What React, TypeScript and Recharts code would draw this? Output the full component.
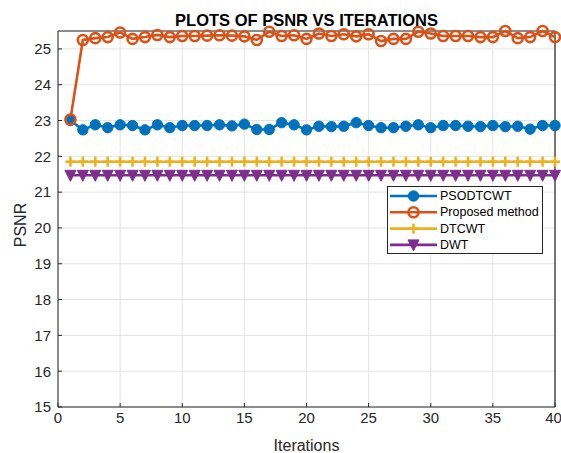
import React from 'react';
import { LineChart, Line, XAxis, YAxis, CartesianGrid, Legend, ReferenceLine, Label } from 'recharts';

const iterations = [1, 2, 3, 4, 5, 6, 7, 8, 9, 10, 11, 12, 13, 14, 15, 16, 17, 18, 19, 20, 21, 22, 23, 24, 25, 26, 27, 28, 29, 30, 31, 32, 33, 34, 35, 36, 37, 38, 39, 40];

const psodtcwt = [23.0, 22.74, 22.88, 22.8, 22.88, 22.86, 22.74, 22.88, 22.8, 22.86, 22.86, 22.86, 22.88, 22.85, 22.9, 22.75, 22.75, 22.94, 22.88, 22.74, 22.84, 22.83, 22.84, 22.94, 22.86, 22.8, 22.8, 22.84, 22.88, 22.8, 22.86, 22.86, 22.84, 22.83, 22.86, 22.83, 22.84, 22.76, 22.86, 22.86];

const proposed = [23.03, 25.25, 25.3, 25.33, 25.46, 25.28, 25.33, 25.39, 25.33, 25.36, 25.36, 25.37, 25.38, 25.37, 25.35, 25.25, 25.48, 25.36, 25.38, 25.28, 25.43, 25.36, 25.41, 25.35, 25.41, 25.22, 25.28, 25.28, 25.48, 25.43, 25.36, 25.36, 25.36, 25.33, 25.33, 25.5, 25.3, 25.33, 25.5, 25.33];

const dtcwt = [21.85, 21.85, 21.85, 21.85, 21.85, 21.85, 21.85, 21.85, 21.85, 21.85, 21.85, 21.85, 21.85, 21.85, 21.85, 21.85, 21.85, 21.85, 21.85, 21.85, 21.85, 21.85, 21.85, 21.85, 21.85, 21.85, 21.85, 21.85, 21.85, 21.85, 21.85, 21.85, 21.85, 21.85, 21.85, 21.85, 21.85, 21.85, 21.85, 21.85];

const dwt = [21.47, 21.47, 21.47, 21.47, 21.47, 21.47, 21.47, 21.47, 21.47, 21.47, 21.47, 21.47, 21.47, 21.47, 21.47, 21.47, 21.47, 21.47, 21.47, 21.47, 21.47, 21.47, 21.47, 21.47, 21.47, 21.47, 21.47, 21.47, 21.47, 21.47, 21.47, 21.47, 21.47, 21.47, 21.47, 21.47, 21.47, 21.47, 21.47, 21.47];

const xTicks = [0, 5, 10, 15, 20, 25, 30, 35, 40];
const yTicks = [15, 16, 17, 18, 19, 20, 21, 22, 23, 24, 25];

const seriesNames = ['PSODTCWT', 'Proposed method', 'DTCWT', 'DWT'];
const titleText = 'PLOTS OF PSNR VS ITERATIONS';
const xLabel = 'Iterations';
const yLabel = 'PSNR';

const data = iterations.map((it, i) => ({
  it,
  psodtcwt: psodtcwt[i],
  proposed: proposed[i],
  dtcwt: dtcwt[i],
  dwt: dwt[i],
}));

const BLUE = '#0072BD';
const ORANGE = '#D95319';
const YELLOW = '#EDB120';
const PURPLE = '#7E2F8E';
const AXIS = '#262626';
const FONT = '"Liberation Sans", Arial, Helvetica, sans-serif';

type MP = { cx?: number; cy?: number; index?: number };

const drawMarker = (kind: string, color: string, cx: number, cy: number, key?: string) => {
  if (kind === 'filled') {
    return <circle key={key} cx={cx} cy={cy} r={5.2} fill={color} stroke={color} strokeWidth={1} />;
  }
  if (kind === 'open') {
    return <circle key={key} cx={cx} cy={cy} r={5} fill="none" stroke={color} strokeWidth={2.6} />;
  }
  if (kind === 'plus') {
    return (
      <g key={key}>
        <line x1={cx - 5} x2={cx + 5} y1={cy} y2={cy} stroke={color} strokeWidth={2.6} />
        <line x1={cx} x2={cx} y1={cy - 5} y2={cy + 5} stroke={color} strokeWidth={2.6} />
      </g>
    );
  }
  return (
    <polygon
      key={key}
      points={`${cx - 5.5},${cy - 5} ${cx + 5.5},${cy - 5} ${cx},${cy + 6}`}
      fill={color}
      stroke={color}
      strokeWidth={1}
      strokeLinejoin="round"
    />
  );
};

const makeDot = (kind: string, color: string, prefix: string) => (p: MP) => {
  if (p.cx == null || p.cy == null) return <g key={`${prefix}-${p.index}`} />;
  return drawMarker(kind, color, p.cx, p.cy, `${prefix}-${p.index}`);
};

const legendItems = [
  { label: seriesNames[0], color: BLUE, kind: 'filled' },
  { label: seriesNames[1], color: ORANGE, kind: 'open' },
  { label: seriesNames[2], color: YELLOW, kind: 'plus' },
  { label: seriesNames[3], color: PURPLE, kind: 'tri' },
];

const LegendBox = () => (
  <svg width={156} height={68} style={{ display: 'block' }}>
    <rect x={0.5} y={0.5} width={155} height={67} fill="#fff" stroke={AXIS} strokeWidth={1} />
    {legendItems.map((it, i) => {
      const cy = 10 + i * 16.3;
      return (
        <g key={it.label}>
          <line x1={3} x2={50} y1={cy} y2={cy} stroke={it.color} strokeWidth={2.6} />
          {drawMarker(it.kind, it.color, 26.5, cy)}
          <text x={53} y={cy} dominantBaseline="central" fontSize={12.5} fill="#000" fontFamily={FONT}>
            {it.label}
          </text>
        </g>
      );
    })}
  </svg>
);

export default function App() {
  return (
    <div style={{ position: 'absolute', left: 0, top: 0, width: 561, height: 453, background: '#fff' }}>
      <LineChart
        width={561}
        height={453}
        data={data}
        margin={{ top: 31, right: 6, bottom: 0, left: 0 }}
        style={{ fontFamily: FONT }}
      >
        <CartesianGrid stroke="#e3e3e3" strokeWidth={1} />
        <XAxis
          dataKey="it"
          type="number"
          domain={[0, 40]}
          ticks={xTicks}
          height={46}
          stroke={AXIS}
          tickSize={-4}
          tickMargin={9}
          tick={{ fill: AXIS, fontSize: 15, fontFamily: FONT }}
        >
          <Label value={xLabel} position="insideBottom" offset={2} fill={AXIS} fontSize={16} fontFamily={FONT} />
        </XAxis>
        <YAxis
          type="number"
          domain={[15, 25.5]}
          ticks={yTicks}
          width={58}
          stroke={AXIS}
          tickSize={-4}
          tickMargin={11}
          tick={{ fill: AXIS, fontSize: 15, fontFamily: FONT }}
        >
          <Label
            content={(props: any) => {
              const vb = props.viewBox || { x: 0, y: 31, width: 58, height: 376 };
              const cx = vb.x + 20;
              const cy = vb.y + vb.height / 2 + 6;
              return (
                <text
                  x={cx}
                  y={cy}
                  transform={`rotate(-90 ${cx} ${cy})`}
                  textAnchor="middle"
                  dominantBaseline="central"
                  fontSize={16}
                  fill={AXIS}
                  fontFamily={FONT}
                >
                  {yLabel}
                </text>
              );
            }}
          />
        </YAxis>
        <ReferenceLine x={40} stroke={AXIS} strokeWidth={1.2} />
        <ReferenceLine y={25.5} stroke={AXIS} strokeWidth={1}>
          <Label value={titleText} position="top" offset={5} fill="#000" fontSize={16.5} fontWeight="bold" fontFamily={FONT} />
        </ReferenceLine>
        <Legend
          layout="horizontal"
          verticalAlign="middle"
          align="center"
          content={LegendBox}
          wrapperStyle={{ position: 'absolute', left: 387, top: 186, width: 156, height: 68 }}
        />
        <Line
          dataKey="psodtcwt"
          stroke={BLUE}
          strokeWidth={2.6}
          dot={makeDot('filled', BLUE, 'b')}
          activeDot={false}
          isAnimationActive={false}
        />
        <Line
          dataKey="proposed"
          stroke={ORANGE}
          strokeWidth={2.6}
          dot={makeDot('open', ORANGE, 'o')}
          activeDot={false}
          isAnimationActive={false}
        />
        <Line
          dataKey="dtcwt"
          stroke={YELLOW}
          strokeWidth={2.6}
          dot={makeDot('plus', YELLOW, 'y')}
          activeDot={false}
          isAnimationActive={false}
        />
        <Line
          dataKey="dwt"
          stroke={PURPLE}
          strokeWidth={2.6}
          dot={makeDot('tri', PURPLE, 'p')}
          activeDot={false}
          isAnimationActive={false}
        />
      </LineChart>
    </div>
  );
}
